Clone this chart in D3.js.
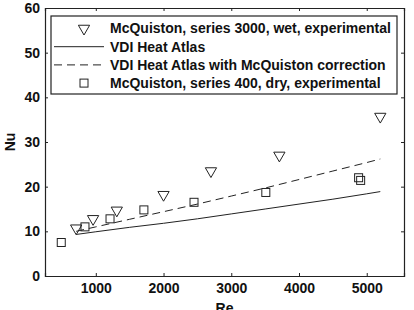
<!DOCTYPE html>
<meta charset="utf-8" />
<script src="https://d3js.org/d3.v7.min.js"></script>
<style>
    body { margin: 0; background: white; }
    text { font-family: "Liberation Sans", Arial, sans-serif; font-weight: bold; }
</style>
<div id="chart"></div>
<script>

    // McQuiston, series 3000, wet, experimental
    const wetRe = [710, 960, 1310, 2000, 2700, 3710, 5200];
    const wetNu = [10.7, 12.8, 14.7, 18.2, 23.5, 27.0, 35.7];

    // McQuiston, series 400, dry, experimental
    const dryRe = [490, 840, 1210, 1710, 2450, 3510, 4880, 4910];
    const dryNu = [7.5, 11.0, 12.8, 14.8, 16.5, 18.7, 22.0, 21.4];

    // VDI Heat Atlas (plain and with correction)
    const lineRe = [710, 1000, 1500, 2000, 2500, 3000, 3500, 4000, 4500, 5000, 5200];
    const vdiNu = [9.3, 9.9, 10.9, 11.8, 12.8, 13.9, 15.0, 16.1, 17.2, 18.4, 18.9];
    const vdiCorrNu = [10.0, 11.0, 12.7, 14.4, 16.1, 17.9, 19.7, 21.6, 23.5, 25.4, 26.2];

    const xTicks = [1000, 2000, 3000, 4000, 5000];
    const yTicks = [0, 10, 20, 30, 40, 50, 60];

    const legendLabels = [
        "McQuiston, series 3000, wet, experimental",
        "VDI Heat Atlas",
        "VDI Heat Atlas with McQuiston correction",
        "McQuiston, series 400, dry, experimental"
    ];

    const W = 414, H = 310;
    const margin = { top: 8, right: 10, bottom: 34, left: 45 };
    const width = W - margin.left - margin.right,
        height = H - margin.top - margin.bottom;

    const svg = d3.select("#chart")
        .append("svg")
        .attr("width", W)
        .attr("height", H)
        .append("g")
        .attr("transform", `translate(${margin.left}, ${margin.top})`);

    const x = d3.scaleLinear().domain([250, 5550]).range([0, width]);
    const y = d3.scaleLinear().domain([0, 60]).range([height, 0]);

    // axes, ticks pointing inward
    svg.append("g")
        .attr("transform", `translate(0, ${height})`)
        .call(d3.axisBottom(x).tickValues(xTicks).tickSize(-3).tickPadding(7).tickFormat(d3.format("d")));
    svg.append("g")
        .call(d3.axisLeft(y).tickValues(yTicks).tickSize(-3).tickPadding(5));
    svg.append("g")
        .call(d3.axisTop(x).tickValues(xTicks).tickSize(-3).tickFormat(""));
    svg.append("g")
        .attr("transform", `translate(${width}, 0)`)
        .call(d3.axisRight(y).tickValues(yTicks).tickSize(-3).tickFormat(""));

    svg.selectAll(".domain").attr("stroke", "#222").attr("stroke-width", 1.2);
    svg.selectAll(".tick line").attr("stroke", "#222");
    svg.selectAll(".tick text")
        .attr("font-size", "14px")
        .attr("fill", "#111");

    // axis titles
    svg.append("text")
        .attr("x", width / 2)
        .attr("y", height + 37)
        .attr("text-anchor", "middle")
        .attr("font-size", "14px")
        .attr("fill", "#111")
        .text("Re");
    svg.append("text")
        .attr("transform", `translate(${-30}, ${height / 2}) rotate(-90)`)
        .attr("text-anchor", "middle")
        .attr("font-size", "14px")
        .attr("fill", "#111")
        .text("Nu");

    const line = d3.line()
        .x(d => x(d[0]))
        .y(d => y(d[1]));

    svg.append("path")
        .datum(d3.zip(lineRe, vdiNu))
        .attr("d", line)
        .attr("fill", "none")
        .attr("stroke", "#222")
        .attr("stroke-width", 1);

    svg.append("path")
        .datum(d3.zip(lineRe, vdiCorrNu))
        .attr("d", line)
        .attr("fill", "none")
        .attr("stroke", "#222")
        .attr("stroke-width", 1)
        .attr("stroke-dasharray", "8,5");

    const tri = d3.symbol().type(d3.symbolTriangle).size(55);

    svg.selectAll(".wet")
        .data(d3.zip(wetRe, wetNu))
        .join("path")
        .attr("class", "wet")
        .attr("d", tri)
        .attr("transform", d => `translate(${x(d[0])}, ${y(d[1])}) rotate(180)`)
        .attr("fill", "none")
        .attr("stroke", "#222")
        .attr("stroke-width", 1);

    svg.selectAll(".dry")
        .data(d3.zip(dryRe, dryNu))
        .join("rect")
        .attr("class", "dry")
        .attr("x", d => x(d[0]) - 4)
        .attr("y", d => y(d[1]) - 4)
        .attr("width", 8)
        .attr("height", 8)
        .attr("fill", "none")
        .attr("stroke", "#222")
        .attr("stroke-width", 1);

    // legend
    const legend = svg.append("g").attr("transform", `translate(${6}, ${8})`);
    legend.append("rect")
        .attr("width", 346)
        .attr("height", 78)
        .attr("fill", "white")
        .attr("stroke", "#222")
        .attr("stroke-width", 1.2);

    legendLabels.forEach(function (label, i) {
        const ry = 12.5 + i * 18.2;
        if (i === 0) {
            legend.append("path")
                .attr("d", tri)
                .attr("transform", `translate(33, ${ry}) rotate(180)`)
                .attr("fill", "none").attr("stroke", "#222");
        } else if (i === 3) {
            legend.append("rect")
                .attr("x", 29).attr("y", ry - 4).attr("width", 8).attr("height", 8)
                .attr("fill", "none").attr("stroke", "#222");
        } else {
            legend.append("line")
                .attr("x1", 3).attr("x2", 53).attr("y1", ry).attr("y2", ry)
                .attr("stroke", "#222")
                .attr("stroke-dasharray", i === 2 ? "8,5" : null);
        }
        legend.append("text")
            .attr("x", 59)
            .attr("y", ry)
            .attr("dy", "0.35em")
            .attr("font-size", "14px")
            .attr("fill", "#111")
            .text(label);
    });

</script>
